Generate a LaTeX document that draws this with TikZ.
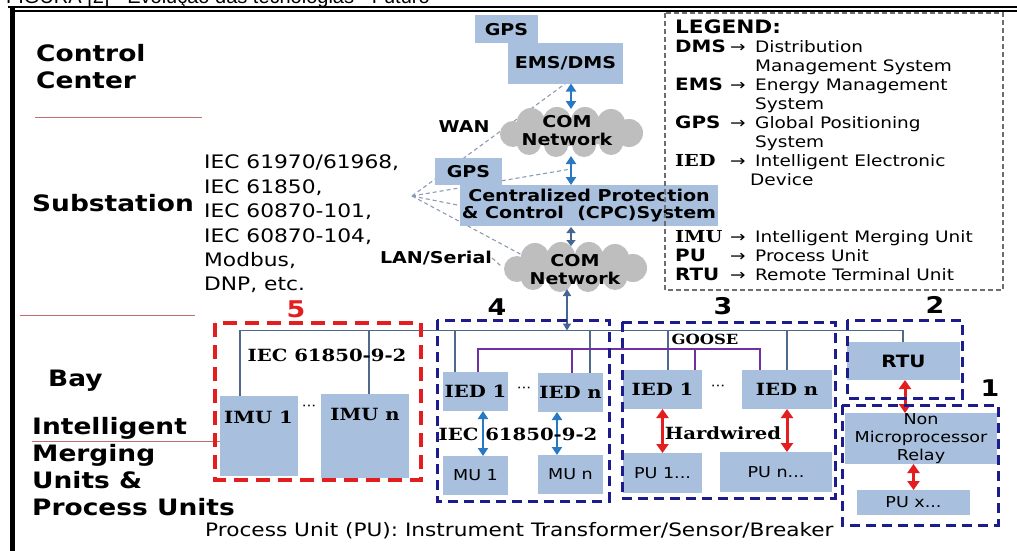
\documentclass[tikz,border=0pt]{standalone}
\usepackage{fontspec}
\setmainfont{DejaVu Sans}[FakeStretch=1.17]
\newfontfamily\dser{DejaVu Serif}[FakeStretch=1.17]
\newfontfamily\capfont{Liberation Sans}
\usetikzlibrary{arrows.meta,calc}
\definecolor{boxblue}{RGB}{168,192,222}
\definecolor{cloudgray}{RGB}{190,190,190}
\definecolor{navyc}{RGB}{28,28,140}
\definecolor{redd}{RGB}{228,30,30}
\definecolor{busc}{RGB}{80,104,140}
\definecolor{purp}{RGB}{112,48,160}
\definecolor{arrblue}{RGB}{40,120,195}
\definecolor{arrsteel}{RGB}{70,102,145}
\definecolor{dashg}{RGB}{140,155,180}
\definecolor{sepc}{RGB}{190,110,110}
\definecolor{leggray}{RGB}{110,110,110}
\newcommand\fsz[2]{\fontsize{#1}{#2}\selectfont}
\newcommand\legitem[2]{\makebox[80pt][l]{\makebox[55pt][l]{\fsz{17}{19}\bfseries #1}→}#2}
\newcommand\legitemS[2]{\makebox[80pt][l]{\makebox[55pt][l]{\fsz{16.5}{19}\dser\bfseries #1}→}#2}
\newcommand\legcont[1]{\hspace*{80pt}#1}
\newcommand\drawcloud[2]{%
  \begin{scope}[shift={(#1,#2)}]
  \fill[cloudgray] (0,0) ellipse [x radius=55, y radius=14]
    (-58,2) circle [radius=13] (-40,-10) circle [radius=14]
    (-14,-11) circle [radius=14] (14,-11) circle [radius=14]
    (40,-9) circle [radius=14] (58,1) circle [radius=14]
    (-42,11) circle [radius=12] (-15,13) circle [radius=12]
    (13,13) circle [radius=12] (40,11) circle [radius=12];
  \end{scope}}
\begin{document}
\begin{tikzpicture}[x=1pt,y=-1pt,
  box/.style={fill=boxblue, inner sep=0pt, outer sep=0pt},
  bsans/.style={font=\fsz{16.3}{17.5}\bfseries, align=center, inner sep=0pt},
  bser/.style={font=\fsz{16.8}{18}\dser\bfseries, inner sep=0pt},
  rsans/.style={font=\fsz{15}{18}, align=center, inner sep=0pt},
  biglbl/.style={font=\fsz{22.6}{27}\bfseries, align=left, anchor=west, inner sep=0pt},
  numlbl/.style={font=\fsz{23}{23}\bfseries, inner sep=0pt},
  cloudarea/.style={inner sep=0pt, outer sep=0pt, minimum width=146pt, minimum height=50pt},
  redframe/.style={draw=redd, line width=3.5pt, dash pattern=on 14pt off 8pt},
  navyframe/.style={draw=navyc, line width=3pt, dash pattern=on 10pt off 6pt},
  legframe/.style={draw=leggray, line width=1.2pt, dash pattern=on 5pt off 3pt},
  busline/.style={draw=busc, line width=1.6pt},
  purpline/.style={draw=purp, line width=2pt},
  dline/.style={draw=dashg, line width=1.1pt, dash pattern=on 4pt off 3pt},
  sepline/.style={draw=sepc, line width=1pt},
  barrow/.style={draw=arrblue, line width=2.6pt, {Triangle[width=10pt,length=8pt]}-{Triangle[width=10pt,length=8pt]}},
  rarrow/.style={draw=redd, line width=3pt, {Triangle[width=12pt,length=9pt]}-{Triangle[width=12pt,length=9pt]}},
  sarrow/.style={draw=arrsteel, line width=2.2pt, {Triangle[width=9pt,length=6pt]}-{Triangle[width=9pt,length=6pt]}},
  tarrow/.style={draw=arrsteel, line width=1.5pt, {Triangle[width=8pt,length=7pt]}-{Triangle[width=8pt,length=7pt]}}
]
\useasboundingbox (0,0) rectangle (1017,551);
\fill[white] (0,0) rectangle (1017,551);

% caption (cut at top)
\begin{scope}
\clip (0,0) rectangle (1017,551);
\node[anchor=base west, font=\capfont\fsz{20}{20}, inner sep=0pt] (cap) at (6,3.5) {FIGURA [2] - Evolução das tecnologias - Futuro};
\end{scope}

% frame
\draw[line width=2pt] (8,7) -- (1017,7);
\draw[line width=1.5pt] (14,11) -- (1017,11);
\draw[line width=4.5pt] (12.5,6) -- (12.5,551);

% left labels
\node[biglbl] (cc) at (36,66.5) {Control\\Center};
\node[biglbl] (sub) at (32,203) {Substation};
\node[biglbl] (bay) at (48,381) {Bay};
\node[biglbl] (imp) at (32,467) {Intelligent\\Merging\\Units \&\\Process Units};
\draw[sepline] (35,117) -- (202,117);
\draw[sepline] (20,315) -- (195,315);
\draw[sepline] (32,441) -- (222,441);

\node[font=\fsz{18.6}{24.4}, align=left, anchor=west, inner sep=0pt] (proto) at (204,224)
  {IEC 61970/61968,\\IEC 61850,\\IEC 60870-101,\\IEC 60870-104,\\Modbus,\\DNP, etc.};

% anchor nodes
\node[box,bsans,minimum width=115pt,minimum height=40pt] (ems) at (565.5,63.5) {EMS/DMS};
\node[box,minimum width=258pt,minimum height=41pt] (cpc) at (589,205.5) {};
\node[cloudarea] (cl1) at (571,132) {};
\node[cloudarea] (cl2) at (575,267) {};
\node[bsans] (lan) at (436,258) {LAN/Serial};

% dashed links
\coordinate (fan) at (412,196);
\coordinate (gpsend) at (571,169);
\coordinate (lanend) at (522,255);
\draw[dline] (fan) -- (ems.south);
\draw[dline] (fan) -- (gpsend);
\draw[dline] (fan) -- (cpc.west);
\draw[dline] (fan) -- (lanend);
\draw[dline] (lan.east) -- (cl2.west);

% center column
\node[box,bsans,minimum width=63pt,minimum height=28pt] (gps1) at (506.5,29.5) {GPS};
\node[box,bsans,minimum width=115pt,minimum height=40pt] (ems2) at (565.5,63.5) {EMS/DMS};
\drawcloud{571}{132}
\node[bsans, font=\fsz{16.3}{18}\bfseries] (cl1t) at (567,131) {COM\\Network};
\node[box,bsans,minimum width=67pt,minimum height=27pt] (gps2) at (468.5,171.5) {GPS};
\node[box,bsans,minimum width=258pt,minimum height=41pt,font=\fsz{16.3}{16.5}\bfseries] (cpct) at (589,205.5) {Centralized Protection\\\& Control\ \ (CPC)System};
\drawcloud{575}{267}
\node[bsans, font=\fsz{16.3}{18}\bfseries] (cl2t) at (575,270) {COM\\Network};
\node[bsans] (wan) at (464,127) {WAN};

\coordinate (ax) at (571,0);
\coordinate (ax2) at (567,0);
\draw[barrow] (ems.south -| cl1.north) -- ([yshift=-2pt]cl1.north);
\draw[barrow] ([yshift=1pt]cl1.south) -- (cl1.south |- cpc.north);
\draw[sarrow] ([yshift=-1pt]cpc.south -| ax) -- ([yshift=-4pt]cl2.north -| ax);

% legend
\draw[legframe] (665,13) rectangle (1003,290);
\node[anchor=north west, align=left, inner sep=0pt, font=\fsz{15.8}{19}] (leg) at (675,20) {%
{\fsz{18.5}{19}\bfseries LEGEND:}\\
\legitem{DMS}{Distribution}\\
\legcont{Management System}\\
\legitem{EMS}{Energy Management}\\
\legcont{System}\\
\legitem{GPS}{Global Positioning}\\
\legcont{System}\\
\legitemS{IED}{Intelligent Electronic}\\
\hspace*{75pt}Device\\
\mbox{}\\
\mbox{}\\
\legitemS{IMU}{Intelligent Merging Unit}\\
\legitem{PU}{Process Unit}\\
\legitem{RTU}{Remote Terminal Unit}};

% bay level boxes
\node[box,minimum width=78pt,minimum height=80pt] (imu1) at (259,436) {};
\node[bser] (imu1t) at (258.5,417) {IMU 1};
\node[box,minimum width=88pt,minimum height=84pt] (imun) at (365,436) {};
\node[bser] (imunt) at (365,414) {IMU n};

\node[box,bser,minimum width=65pt,minimum height=39pt] (ied41) at (475.5,391.5) {IED 1};
\node[box,bser,minimum width=65pt,minimum height=39pt] (ied4n) at (570.5,392.5) {IED n};
\node[box,rsans,minimum width=65pt,minimum height=39pt] (mu1) at (475.5,475.5) {MU 1};
\node[box,rsans,minimum width=65pt,minimum height=39pt] (mun) at (570.5,474.5) {MU n};

\node[box,bser,minimum width=79pt,minimum height=39pt] (ied31) at (662.5,389.5) {IED 1};
\node[box,bser,minimum width=90pt,minimum height=39pt] (ied3n) at (787,389.5) {IED n};
\node[box,rsans,minimum width=79pt,minimum height=40pt] (pu1) at (662.5,473) {PU 1...};
\node[box,rsans,minimum width=112pt,minimum height=40pt] (pun) at (776,472) {PU n...};

\node[box,bsans,font=\fsz{17}{17}\bfseries,minimum width=113pt,minimum height=38pt] (rtu) at (903.5,361) {RTU};
\node[box,rsans,minimum width=152pt,minimum height=51pt] (nmr) at (921,438.5) {Non\\Microprocessor\\Relay};
\node[box,rsans,minimum width=113pt,minimum height=25pt] (pux) at (913.5,502.5) {PU x...};

% process bus
\coordinate (busL) at (240,330.5);
\coordinate (busR) at (903,330.5);
\draw[busline] (imu1.north -| busL) -- (busL) -- (busR) -- (busR |- rtu.north);
\foreach \xx/\nn in {369/imun, 455/ied41, 590/ied4n, 668/ied31, 787/ied3n}{
  \coordinate (b\nn) at (\xx,330.5);
  \draw[busline] (b\nn) -- (b\nn |- \nn.north);
}
\draw[tarrow] ([yshift=3pt]cl2.south -| ax2) -- (ax2 |- busL);

% GOOSE line
\coordinate (pL) at (478,349);
\coordinate (pR) at (760,349);
\coordinate (p2) at (572,349);
\coordinate (p3) at (695,349);
\draw[purpline] (pL |- ied41.north) -- (pL) -- (pR) -- (pR |- ied3n.north);
\draw[purpline] (p2) -- (p2 |- ied4n.north);
\draw[purpline] (p3) -- (p3 |- ied31.north);

% arrows in bays
\draw[barrow] ([xshift=7.5pt]ied41.south) -- ([xshift=7.5pt]mu1.north);
\draw[barrow] ([xshift=-13.5pt]ied4n.south) -- ([xshift=-13.5pt]mun.north);
\draw[rarrow] (ied31.south) -- (ied31.south |- pu1.north);
\draw[rarrow] (ied3n.south) -- (ied3n.south |- pun.north);
\draw[rarrow] ([xshift=1.5pt]rtu.south) -- ([xshift=1.5pt]rtu.south |- nmr.north);
\draw[rarrow] (pux.north |- nmr.south) -- (pux.north);

% frames
\draw[redframe] (215,323) rectangle (421,480);
\draw[navyframe] (437,320) rectangle (609,501);
\draw[navyframe] (622,322) rectangle (835,498);
\draw[navyframe] (847,320) rectangle (962,398);
\draw[navyframe] (842,405) rectangle (998,525);

% labels
\node[numlbl, text=redd] (n5) at (296,309) {5};
\node[numlbl] (n4) at (497,307) {4};
\node[numlbl] (n3) at (723,306) {3};
\node[numlbl] (n2) at (935,305) {2};
\node[numlbl] (n1) at (990,388) {1};
\node[bser] (iec5) at (327,355) {IEC 61850-9-2};
\node[bser] (iec4) at (518,434) {IEC 61850-9-2};
\node[bser] (hw) at (723,433) {Hardwired};
\node[font=\fsz{14}{14}\dser\bfseries, inner sep=0pt] (goose) at (705,339) {GOOSE};
\node[font=\fsz{13}{13}, inner sep=0pt] (dt5) at (309,408) {···};
\node[font=\fsz{13}{13}, inner sep=0pt] (dt4) at (524,390) {···};
\node[font=\fsz{13}{13}, inner sep=0pt] (dt3) at (718,388) {···};

\node[anchor=west, font=\fsz{18.5}{18.5}, inner sep=0pt] (note) at (205,531) {Process Unit (PU): Instrument Transformer/Sensor/Breaker};
\end{tikzpicture}
\end{document}
